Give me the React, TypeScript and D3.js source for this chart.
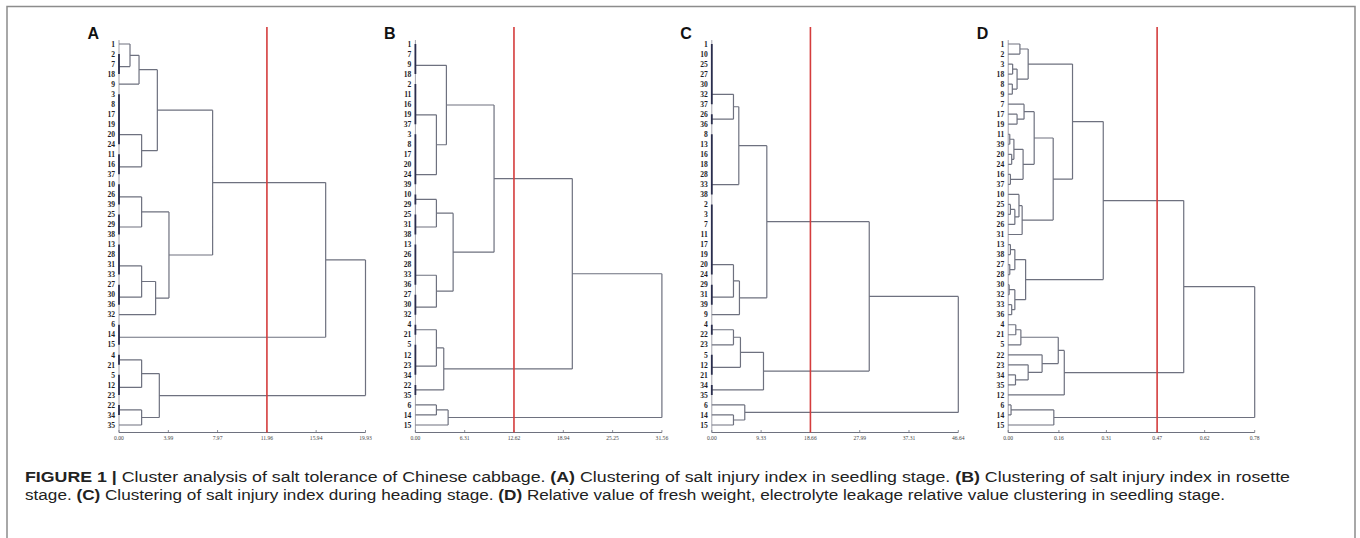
import React from 'react';
import * as d3 from 'd3';

type Ref = number | string; // number = accession id, 't3' = tie group, 'm5' = merge
type Merge = [Ref, Ref, number];

// leaf order, top to bottom
const leavesA = [1, 2, 7, 18, 9, 3, 8, 17, 19, 20, 24, 11, 16, 37, 10, 26, 39, 25, 29, 38, 13, 28, 31, 33, 27, 30, 36, 32, 6, 14, 15, 4, 21, 5, 12, 23, 22, 34, 35];
const leavesB = [1, 7, 9, 18, 2, 11, 16, 19, 37, 3, 8, 17, 20, 24, 39, 10, 29, 25, 31, 38, 13, 26, 28, 33, 36, 27, 30, 32, 4, 21, 5, 12, 23, 34, 22, 35, 6, 14, 15];
const leavesC = [1, 10, 25, 27, 30, 32, 37, 26, 36, 8, 13, 16, 18, 28, 33, 38, 2, 3, 7, 11, 17, 19, 20, 24, 29, 31, 39, 9, 4, 22, 23, 5, 12, 21, 34, 35, 6, 14, 15];
const leavesD = [1, 2, 3, 18, 8, 9, 7, 17, 19, 11, 39, 20, 24, 16, 37, 10, 25, 29, 26, 31, 13, 38, 27, 28, 30, 32, 33, 36, 4, 21, 5, 22, 23, 34, 35, 12, 6, 14, 15];

// groups joined at distance 0
const tiesA = [[2, 7, 18], [3, 8, 17, 19, 20, 24], [11, 16, 37], [10, 26, 39], [25, 29, 38], [13, 28, 31, 33], [27, 30, 36], [6, 14, 15], [4, 21], [5, 12, 23], [22, 34]];
const tiesB = [[1, 7, 9, 18], [2, 11, 16, 19, 37], [3, 8, 17, 20, 24, 39], [10, 29], [25, 31, 38], [13, 26, 28, 33, 36], [27, 30, 32], [4, 21], [5, 12, 23, 34], [22, 35]];
const tiesC = [[1, 10, 25, 27, 30, 32, 37], [26, 36], [8, 13, 16, 18, 28, 33, 38], [2, 3, 7, 11, 17, 19, 20, 24], [29, 31, 39], [4, 22], [5, 12, 21], [34, 35]];
const tiesD: number[][] = [];

// merges: [left, right, distance]
const mergesA: Merge[] = [
  [1, 't0', 0.89], ['m0', 9, 1.62], ['t1', 't2', 1.83], ['m1', 'm2', 3.1],
  ['t3', 't4', 1.83], ['t5', 't6', 1.83], ['m5', 32, 2.96], ['m4', 'm6', 4.04],
  ['m3', 'm7', 7.57], ['m8', 't7', 16.71], ['t8', 't9', 1.83], ['t10', 35, 1.83],
  ['m10', 'm11', 3.26], ['m9', 'm12', 19.93],
];
const mergesB: Merge[] = [
  ['t1', 't2', 2.69], ['t0', 'm0', 3.97], ['t3', 't4', 2.69], ['t5', 't6', 2.69],
  ['m2', 'm3', 4.83], ['m1', 'm4', 10.07], ['t7', 't8', 2.69], ['m6', 't9', 3.63],
  ['m5', 'm7', 20.09], [6, 14, 2.69], ['m9', 15, 4.19], ['m8', 'm10', 31.56],
];
const mergesC: Merge[] = [
  ['t0', 't1', 4.1], ['m0', 't2', 5.11], ['t3', 't4', 4.1], ['m2', 9, 5.23],
  ['m1', 'm3', 10.41], ['t5', 23, 4.1], ['m5', 't6', 5.42], ['m6', 't7', 9.78],
  ['m4', 'm7', 29.79], [14, 15, 4.1], [6, 'm9', 6.24], ['m8', 'm10', 46.64],
];
const mergesD: Merge[] = [
  [1, 2, 0.037], [3, 18, 0.014], [8, 9, 0.013], ['m1', 'm2', 0.028],
  ['m0', 'm3', 0.063], [17, 19, 0.028], [7, 'm5', 0.05], [11, 39, 0.005],
  [20, 24, 0.011], ['m7', 'm8', 0.018], [16, 37, 0.007], ['m9', 'm10', 0.047],
  ['m6', 'm11', 0.082], [25, 29, 0.007], ['m13', 26, 0.021], [10, 'm14', 0.034],
  ['m15', 31, 0.044], ['m12', 'm16', 0.142], ['m4', 'm17', 0.203], [13, 38, 0.007],
  [27, 28, 0.005], ['m19', 'm20', 0.021], [30, 32, 0.003], [33, 36, 0.011],
  ['m22', 'm23', 0.021], ['m21', 'm24', 0.055], ['m18', 'm25', 0.3], [4, 21, 0.024],
  ['m27', 5, 0.04], [34, 35, 0.023], [23, 'm29', 0.063], [22, 'm30', 0.107],
  ['m28', 'm31', 0.158], ['m32', 12, 0.177], ['m26', 'm33', 0.554], [6, 14, 0.009],
  ['m35', 15, 0.144], ['m34', 'm36', 0.778],
];

// axis tick labels and the red cut line
const ticksA = [0, 3.99, 7.97, 11.96, 15.94, 19.93];
const ticksB = [0, 6.31, 12.62, 18.94, 25.25, 31.56];
const ticksC = [0, 9.33, 18.66, 27.99, 37.31, 46.64];
const ticksD = [0, 0.16, 0.31, 0.47, 0.62, 0.778];
const cuts = [11.96, 12.62, 18.66, 0.47];
const letters = ['A', 'B', 'C', 'D'];

const panels = [
  { leaves: leavesA, ties: tiesA, merges: mergesA, ticks: ticksA },
  { leaves: leavesB, ties: tiesB, merges: mergesB, ticks: ticksB },
  { leaves: leavesC, ties: tiesC, merges: mergesC, ticks: ticksC },
  { leaves: leavesD, ties: tiesD, merges: mergesD, ticks: ticksD },
];

const W = 1360, H = 538;
const panelX0 = 119, panelStep = 296.4, panelW = 246.5;
const leafTop = 44, leafBottom = 425, axisY = 432.5;

type TNode = { id?: number; h: number; children?: TNode[] };

function buildTree(ties: number[][], merges: Merge[]): TNode {
  const nodes: Record<string, TNode> = {};
  const get = (r: Ref): TNode => (typeof r === 'number' ? { id: r, h: 0 } : nodes[r]);
  ties.forEach((g, i) => {
    let cur = get(g[0]);
    for (let k = 1; k < g.length; k++) cur = { h: 0, children: [cur, get(g[k])] };
    nodes['t' + i] = cur;
  });
  merges.forEach(([a, b, h], i) => {
    nodes['m' + i] = { h, children: [get(a), get(b)] };
  });
  return nodes['m' + (merges.length - 1)];
}

function Dendrogram(props: { i: number; leaves: number[]; ties: number[][]; merges: Merge[]; ticks: number[] }) {
  const { i, leaves, ties, merges, ticks } = props;
  const x0 = panelX0 + i * panelStep;
  const x = d3.scaleLinear().domain([0, ticks[ticks.length - 1]]).range([x0, x0 + panelW]);
  const y = d3.scalePoint<number>().domain(leaves).range([leafTop, leafBottom]);
  const root = d3.hierarchy<TNode>(buildTree(ties, merges));
  const py = new Map<any, number>();
  root.eachAfter((n) => {
    py.set(n, n.children ? (d3.mean(n.children, (c) => py.get(c)) as number) : (y(n.data.id!) as number));
  });

  const grey: string[] = [];
  const dark: string[] = [];
  root.each((n) => {
    if (!n.children) return;
    const xn = x(n.data.h);
    const [a, b] = n.children;
    const v = `M${xn},${py.get(a)}V${py.get(b)}`;
    if (n.data.h === 0) dark.push(v);
    else grey.push(v);
    n.children.forEach((c) => {
      const xc = x(c.data.h);
      if (xc !== xn) grey.push(`M${xc},${py.get(c)}H${xn}`);
    });
  });

  return (
    <g>
      <text x={x0 - 31.5} y={38.5} fontFamily="Liberation Sans, Arial, sans-serif" fontWeight="bold" fontSize={16} fill="#111">
        {letters[i]}
      </text>
      <line x1={x0} x2={x0} y1={40} y2={axisY} stroke="#8a8c98" strokeWidth={0.8} />
      <path d={grey.join('')} fill="none" stroke="#6e717f" strokeWidth={1.2} />
      <path d={dark.join('')} fill="none" stroke="#2a2e4e" strokeWidth={1.8} />
      {leaves.map((l) => (
        <text key={l} x={x0 - 4} y={(y(l) as number) + 2.7} textAnchor="end" fontFamily="Liberation Serif, serif" fontWeight="bold" fontSize={7.6} fill="#1e1e28">
          {l}
        </text>
      ))}
      <line x1={x0} x2={x0 + panelW} y1={axisY} y2={axisY} stroke="#6e717f" strokeWidth={1} />
      {ticks.map((t) => (
        <g key={t}>
          <line x1={x(t)} x2={x(t)} y1={axisY - 2.5} y2={axisY} stroke="#6e717f" strokeWidth={0.8} />
          <text x={x(t)} y={440} textAnchor="middle" fontFamily="Liberation Serif, serif" fontSize={5.6} fill="#444">
            {t.toFixed(2)}
          </text>
        </g>
      ))}
      <line x1={x(cuts[i])} x2={x(cuts[i])} y1={27} y2={axisY} stroke="#d43c3c" strokeWidth={1.6} />
    </g>
  );
}

export default function App() {
  const sans = 'Liberation Sans, Arial, sans-serif';
  return (
    <svg width={W} height={H} style={{ position: 'absolute', left: 0, top: 0, background: '#fff' }}>
      <rect x={0} y={0} width={W} height={H} fill="#fff" />
      <path d={`M7,545V6.5H1355V545`} fill="none" stroke="#8c8c8c" strokeWidth={1.5} />
      {panels.map((p, i) => (
        <Dendrogram key={i} i={i} {...p} />
      ))}
      <text x={25} y={482} fontFamily={sans} fontSize={14} fill="#222" textLength={1265} lengthAdjust="spacingAndGlyphs">
        <tspan fontWeight="bold">FIGURE 1 | </tspan>
        <tspan>Cluster analysis of salt tolerance of Chinese cabbage. </tspan>
        <tspan fontWeight="bold">(A)</tspan>
        <tspan> Clustering of salt injury index in seedling stage. </tspan>
        <tspan fontWeight="bold">(B)</tspan>
        <tspan> Clustering of salt injury index in rosette</tspan>
      </text>
      <text x={25} y={500} fontFamily={sans} fontSize={14} fill="#222" textLength={1200} lengthAdjust="spacingAndGlyphs">
        <tspan>stage. </tspan>
        <tspan fontWeight="bold">(C)</tspan>
        <tspan> Clustering of salt injury index during heading stage. </tspan>
        <tspan fontWeight="bold">(D)</tspan>
        <tspan> Relative value of fresh weight, electrolyte leakage relative value clustering in seedling stage.</tspan>
      </text>
    </svg>
  );
}
